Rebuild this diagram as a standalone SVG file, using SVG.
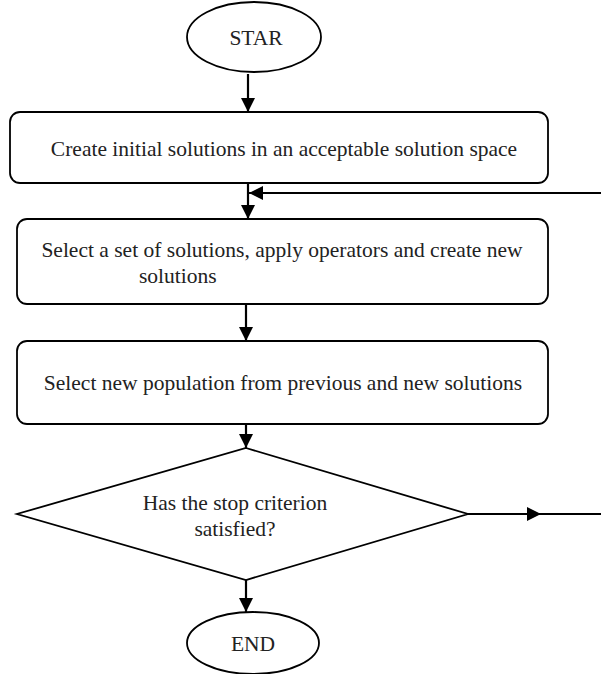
<svg xmlns="http://www.w3.org/2000/svg" width="601" height="674" viewBox="0 0 601 674">
<style>
.shape{fill:#fff;stroke:#000;stroke-width:1.8}
.t{font-family:"Liberation Serif","Times New Roman",serif;font-size:21.5px;fill:#222}
.c{text-anchor:middle}
.conn{fill:none;stroke:#000;stroke-width:2.2}
</style>
<defs>
<marker id="ah" markerUnits="userSpaceOnUse" markerWidth="16" markerHeight="16" refX="14" refY="7" orient="auto">
<path d="M0,0 L14,7 L0,14 z" fill="#000"/>
</marker>
<marker id="am" markerUnits="userSpaceOnUse" markerWidth="16" markerHeight="16" refX="7" refY="7" orient="auto">
<path d="M0,0 L14,7 L0,14 z" fill="#000"/>
</marker>
</defs>
<rect width="601" height="674" fill="#fff"/>
<g id="start">
<ellipse class="shape" cx="254" cy="37" rx="67" ry="35"/>
<text class="t c" x="256" y="45">STAR</text>
</g>
<g id="create">
<rect class="shape" x="10" y="112" width="538" height="71" rx="10"/>
<text class="t c" x="284" y="156">Create initial solutions in an acceptable solution space</text>
</g>
<g id="select">
<rect class="shape" x="17" y="219" width="531" height="85" rx="10"/>
<text class="t c" x="282" y="257">Select a set of solutions, apply operators and create new</text>
<text class="t" x="139" y="283">solutions</text>
</g>
<g id="population">
<rect class="shape" x="17" y="341" width="531" height="83" rx="10"/>
<text class="t c" x="283" y="390">Select new population from previous and new solutions</text>
</g>
<g id="decision">
<polygon class="shape" points="246,448 468,514 246,580 17,514"/>
<text class="t c" x="235" y="510">Has the stop criterion</text>
<text class="t c" x="235" y="536">satisfied?</text>
</g>
<g id="end">
<ellipse class="shape" cx="253" cy="643" rx="66" ry="31"/>
<text class="t c" x="253" y="651">END</text>
</g>
<g id="connectors">
<path class="conn" d="M248,74 L248,112" marker-end="url(#ah)"/>
<path class="conn" d="M248,183 L248,219" marker-end="url(#ah)"/>
<path class="conn" d="M601,193 L249,193" marker-end="url(#ah)"/>
<path class="conn" d="M246,304 L246,341" marker-end="url(#ah)"/>
<path class="conn" d="M246,424 L246,448" marker-end="url(#ah)"/>
<path class="conn" d="M468,514 L534,514 L601,514" marker-mid="url(#am)"/>
<path class="conn" d="M246,580 L246,612" marker-end="url(#ah)"/>
</g>
</svg>
